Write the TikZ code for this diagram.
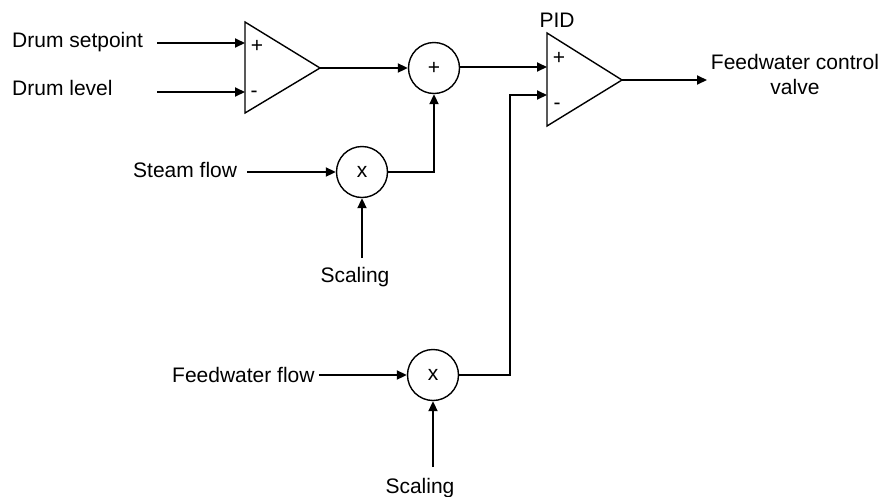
\documentclass[tikz,border=0pt]{standalone}
\usepackage{fontspec}
\setmainfont{Liberation Sans}
\usetikzlibrary{arrows.meta}
\begin{document}
\begin{tikzpicture}[x=1pt,y=-1pt,
  font=\fontsize{21}{25}\selectfont,
  wire/.style={line width=2pt},
  arr/.style={wire,-{Triangle[length=10pt,width=9pt]}},
  junc/.style={circle,draw,line width=1.4pt,minimum size=51pt,inner sep=0pt},
  amp/.style={draw,line width=1.4pt,line join=miter},
  lbl/.style={inner sep=0pt}]
\useasboundingbox (0,0) rectangle (884,496);
% amplifiers
\draw[amp] (245,22) -- (320,68) -- (245,113) -- cycle;
\coordinate (a1p) at (245,43);
\coordinate (a1m) at (245,92);
\coordinate (a1o) at (320,68);
\node[lbl] (a1ps) at (257,46) {+};
\node[lbl] (a1ms) at (254,94) {-};
\draw[amp] (547,33) -- (622,80) -- (547,126) -- cycle;
\coordinate (pidp) at (547,67);
\coordinate (pidm) at (547,95);
\coordinate (pido) at (622,80);
\node[lbl] (pidps) at (559,58) {+};
\node[lbl] (pidms) at (557,106) {-};
\node[lbl,anchor=base] (pidt) at (557,27) {PID};
% junctions
\node[junc] (sum) at (434,68) {+};
\node[junc] (m1) at (362,172) {x};
\node[junc] (m2) at (433,375) {x};
% labels
\node[lbl,anchor=base west] (ds) at (12,47) {Drum setpoint};
\node[lbl,anchor=base west] (dl) at (12,95) {Drum level};
\node[lbl,anchor=base west] (sf) at (133,177) {Steam flow};
\node[lbl,anchor=base west] (ff) at (172,382) {Feedwater flow};
\node[lbl,anchor=base] (sc1) at (355,282) {Scaling};
\node[lbl,anchor=base] (sc2) at (420,493) {Scaling};
\node[lbl,align=center,anchor=north] (fcv) at (795,54) {Feedwater control\\valve};
% connectors
\coordinate (ds0) at (157,43);
\coordinate (dl0) at (157,92);
\draw[arr] (ds0) -- (a1p);
\draw[arr] (dl0) -- (a1m);
\draw[arr] (a1o) -- (a1o -| sum.west);
\draw[arr] (sum.east |- pidp) -- (pidp);
\draw[arr] ([xshift=10pt]sf.east |- m1.west) -- (m1.west);
\draw[arr] (m1.east) -| (sum.south);
\draw[arr] (m1.south |- 0,258) -- (m1.south);
\draw[arr] ([xshift=4pt]ff.east |- m2.west) -- (m2.west);
\draw[arr] (m2.east) -| (510,95) -- (pidm);
\draw[arr] (m2.south |- 0,467) -- (m2.south);
\draw[arr] (pido) -- (707,80);
\end{tikzpicture}
\end{document}
